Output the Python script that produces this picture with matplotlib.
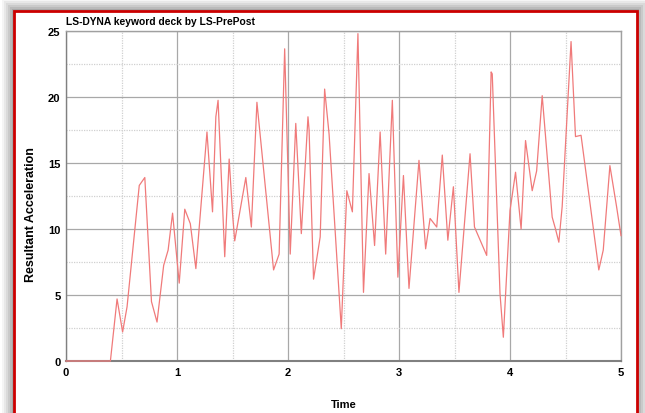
import matplotlib
matplotlib.use("Agg")
import matplotlib.pyplot as plt
from matplotlib.patches import Rectangle

time = [0.0, 0.40, 0.46, 0.51, 0.55, 0.66, 0.71, 0.77, 0.82, 0.88, 0.92,
        0.96, 1.02, 1.07, 1.12, 1.17, 1.27, 1.32, 1.35, 1.37, 1.43, 1.47, 1.50,
        1.52, 1.62, 1.67, 1.72, 1.87, 1.92, 1.97, 2.02, 2.07,
        2.12, 2.18, 2.19, 2.23, 2.29, 2.33, 2.37, 2.48, 2.53, 2.58, 2.63,
        2.68, 2.73, 2.78, 2.83, 2.88, 2.94, 2.95, 2.99, 3.04, 3.09, 3.18, 3.24,
        3.28, 3.34, 3.39, 3.44, 3.49, 3.54, 3.64, 3.68, 3.79, 3.83,
        3.84, 3.91, 3.94, 4.00, 4.05, 4.10, 4.14, 4.20, 4.24, 4.29, 4.38, 4.41,
        4.44, 4.47, 4.55, 4.59, 4.64, 4.80, 4.84, 4.90, 4.96, 5.00]
accel = [0.0, 0.0, 4.7, 2.2, 4.1, 13.3, 13.9, 4.5, 2.95, 7.25, 8.4,
         11.2, 5.9, 11.5, 10.4, 7.0, 17.35, 11.3, 18.5, 19.75, 7.9, 15.3, 11.2,
         9.1, 13.9, 10.15, 19.6, 6.9, 8.1, 23.65, 8.1, 18.0,
         9.65, 18.5, 17.5, 6.2, 9.4, 20.6, 17.2, 2.45, 12.9, 11.3, 24.8,
         5.2, 14.2, 8.75, 17.35, 8.1, 19.75, 17.0, 6.35, 14.05, 5.5, 15.2, 8.5,
         10.8, 10.15, 15.6, 9.15, 13.2, 5.2, 15.7, 10.15, 8.0, 21.9,
         21.75, 5.1, 1.8, 11.4, 14.3, 10.0, 16.7, 12.9, 14.4, 20.1, 10.9, 10.0,
         9.0, 11.7, 24.2, 17.0, 17.1, 6.9, 8.4, 14.8, 11.7, 9.5]

xticks = [0, 1, 2, 3, 4, 5]
yticks = [0, 5, 10, 15, 20, 25]

plt.rcParams['font.family'] = ['Liberation Sans', 'DejaVu Sans']

fig = plt.figure(figsize=(6.45, 4.14), dpi=100)
fig.patch.set_facecolor('white')

W, H = 645.0, 414.0
# shadow layers
for i, a in enumerate([0.04, 0.05, 0.06, 0.07, 0.08, 0.10]):
    pad = 12 - 2 * i
    fig.patches.append(Rectangle(((14 - pad) / W, -0.05), (623 + 2 * pad) / W,
                                 (402 + pad) / H + 0.05,
                                 transform=fig.transFigure, facecolor='black',
                                 edgecolor='none', alpha=a, zorder=0))
# framed panel
fig.patches.append(Rectangle((14 / W, -0.05), 623 / W, 402 / H + 0.05,
                             transform=fig.transFigure, facecolor='white',
                             edgecolor='#cc0000', linewidth=2.0, zorder=1))

ax = fig.add_axes([66 / W, 1 - 362 / H, 555 / W, 330 / H])
ax.set_zorder(2)
ax.set_facecolor('white')
ax.plot(time, accel, color='#f07a7a', linewidth=0.9, zorder=5, clip_on=False)
ax.set_xlim(0, 5)
ax.set_ylim(0, 25)
ax.set_xticks(xticks)
ax.set_yticks(yticks)
ax.set_xticks([0.5, 1.5, 2.5, 3.5, 4.5], minor=True)
ax.set_yticks([2.5, 7.5, 12.5, 17.5, 22.5], minor=True)
ax.grid(which='major', color='#a8a8a8', linewidth=0.9, linestyle='-')
ax.grid(which='minor', color='#d0d0d0', linewidth=0.9, linestyle=(0, (1, 1)))
ax.tick_params(which='both', length=0)
ax.tick_params(axis='both', labelsize=8, pad=4)
for lab in ax.get_xticklabels() + ax.get_yticklabels():
    lab.set_fontweight('bold')
for s in ax.spines.values():
    s.set_color('#a0a0a0')
    s.set_linewidth(1.0)
    s.set_zorder(2)
ax.spines['bottom'].set_color('#808080')
ax.spines['bottom'].set_linewidth(1.5)
ax.spines['left'].set_color('#808080')

ax.set_xlabel('Time', fontsize=8, fontweight='bold', labelpad=16)
ax.set_ylabel('Resultant Acceleration', fontsize=9.0, fontweight='bold')
ax.yaxis.set_label_coords(-0.052, 0.448)
ax.set_title('LS-DYNA keyword deck by LS-PrePost', fontsize=7.4, fontweight='bold',
             loc='left', pad=5)

fig.savefig('out.png', dpi=100)
